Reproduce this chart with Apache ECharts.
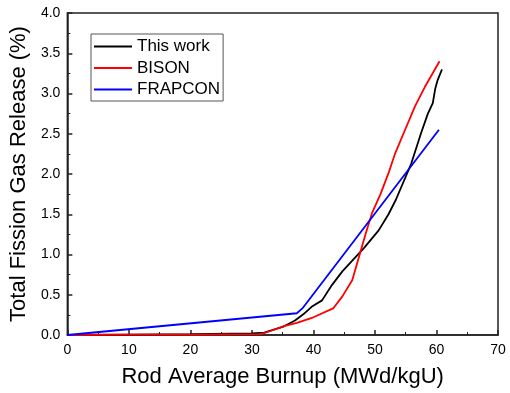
<!DOCTYPE html>
<html>
<head>
<meta charset="utf-8">
<script src="https://cdn.jsdelivr.net/npm/echarts@6/dist/echarts.min.js"></script>
<style>
html, body { margin: 0; padding: 0; background: #fff; }
#chart { width: 510px; height: 393px; }
</style>
</head>
<body>
<div id="chart"></div>
<script>
// burnup (MWd/kgU) and fission gas release (%)
var thisWorkX = [0, 10, 20, 30, 32, 35, 37, 38.4, 39.7, 41.4, 43, 44.7, 46.5, 48.2, 50.6, 52.2, 53.4, 55.9, 57.5, 58.6, 59.4, 59.8, 60.2, 60.9];
var thisWorkY = [0, 0.005, 0.01, 0.02, 0.03, 0.1, 0.18, 0.26, 0.35, 0.43, 0.62, 0.79, 0.94, 1.08, 1.3, 1.5, 1.68, 2.13, 2.51, 2.75, 2.88, 3.06, 3.17, 3.3];

var bisonX = [0, 10, 20, 31.5, 33, 35.2, 37.3, 40, 43.2, 44.7, 46.3, 47.4, 48.5, 49.5, 50.9, 52.2, 53.3, 54.9, 56.5, 58.1, 60.5];
var bisonY = [0, 0.005, 0.005, 0.01, 0.05, 0.11, 0.15, 0.22, 0.33, 0.48, 0.68, 0.97, 1.26, 1.51, 1.75, 2.01, 2.26, 2.55, 2.84, 3.08, 3.4];

var frapconX = [0, 37.3, 38.2, 60.4];
var frapconY = [0, 0.27, 0.33, 2.55];

var seriesNames = ['This work', 'BISON', 'FRAPCON'];
var seriesColors = ['#000000', '#ff0000', '#0000ff'];

function pairs(xs, ys) {
    var out = [];
    for (var i = 0; i < xs.length; i++) {
        out.push([xs[i], ys[i]]);
    }
    return out;
}

var allData = [pairs(thisWorkX, thisWorkY), pairs(bisonX, bisonY), pairs(frapconX, frapconY)];

var font = 'Liberation Sans, Arial, sans-serif';

var option = {
    animation: false,
    backgroundColor: '#fff',
    grid: {
        left: 60,
        right: 12,
        top: 13,
        bottom: 58,
        show: true,
        borderColor: '#222',
        borderWidth: 1.5,
        containLabel: false
    },
    legend: {
        orient: 'vertical',
        left: 91,
        top: 34,
        data: seriesNames,
        icon: 'rect',
        itemWidth: 38,
        itemHeight: 2,
        itemGap: 4.5,
        padding: [4, 3, 3, 3],
        borderColor: '#555',
        borderWidth: 1,
        textStyle: {
            color: '#000',
            fontSize: 17,
            lineHeight: 17,
            fontFamily: font
        }
    },
    xAxis: {
        type: 'value',
        min: 0,
        max: 70,
        interval: 10,
        name: 'Rod Average Burnup (MWd/kgU)',
        nameLocation: 'middle',
        nameGap: 31,
        nameTextStyle: { color: '#000', fontSize: 22, fontFamily: font },
        axisLine: { show: true, lineStyle: { color: '#222', width: 1.5 } },
        axisTick: { show: true, inside: true, length: 5, lineStyle: { color: '#222', width: 1.5 } },
        minorTick: { show: true, splitNumber: 2, length: 3, lineStyle: { color: '#222', width: 1 } },
        splitLine: { show: false },
        axisLabel: { color: '#000', fontSize: 14, margin: 8, fontFamily: font }
    },
    yAxis: {
        type: 'value',
        min: 0,
        max: 4,
        interval: 0.5,
        name: 'Total Fission Gas Release (%)',
        nameLocation: 'middle',
        nameGap: 31,
        nameTextStyle: { color: '#000', fontSize: 22, fontFamily: font },
        axisLine: { show: true, lineStyle: { color: '#222', width: 1.5 } },
        axisTick: { show: true, inside: true, length: 5, lineStyle: { color: '#222', width: 1.5 } },
        minorTick: { show: true, splitNumber: 2, length: 3, lineStyle: { color: '#222', width: 1 } },
        splitLine: { show: false },
        axisLabel: {
            color: '#000',
            fontSize: 14,
            margin: 7,
            fontFamily: font,
            formatter: function (v) { return v.toFixed(1); }
        }
    },
    series: seriesNames.map(function (name, i) {
        return {
            name: name,
            type: 'line',
            showSymbol: false,
            symbol: 'none',
            color: seriesColors[i],
            lineStyle: { color: seriesColors[i], width: 1.8 },
            data: allData[i]
        };
    })
};

var myChart = echarts.init(document.getElementById('chart'));
myChart.setOption(option);
</script>
</body>
</html>
